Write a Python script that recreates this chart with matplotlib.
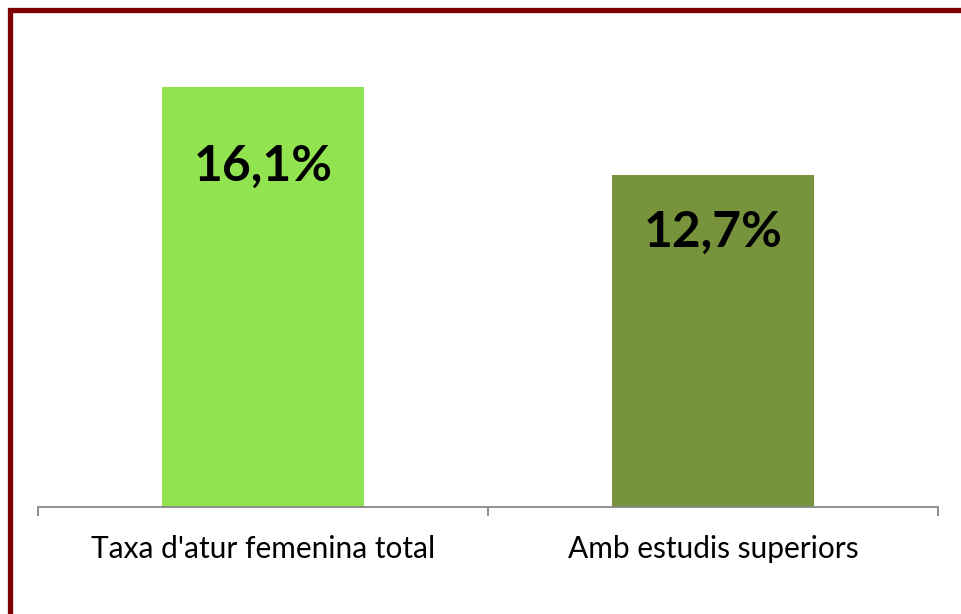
import matplotlib.pyplot as plt
from matplotlib.patches import Rectangle

categories = ["Taxa d'atur femenina total", "Amb estudis superiors"]
values = [16.1, 12.7]
labels = ["16,1%", "12,7%"]
colors = ["#92E350", "#77933C"]

plt.rcParams['font.family'] = ['Lato', 'DejaVu Sans']

W, H = 961, 614
fig = plt.figure(figsize=(W / 100, H / 100), dpi=100)

# dark red frame, cut off at the right and bottom
fig.patches.append(Rectangle((9.5 / W, -0.1), 1.2, (H - 9.5) / H + 0.1,
                             transform=fig.transFigure, fill=False,
                             edgecolor="#7F0000", linewidth=3.8))

ax = fig.add_axes([38 / W, (H - 507) / H, 900 / W, 470 / H])
x = range(len(categories))
bars = ax.bar(x, values, width=0.447, color=colors)
label_drop = [3.6, 2.72]  # baseline distance below bar top (data units)
for b, lab, d in zip(bars, labels, label_drop):
    ax.text(b.get_x() + b.get_width() / 2, b.get_height() - d, lab,
            ha='center', va='baseline', fontsize=35.8, fontweight='bold',
            color='black')

ax.set_xlim(-0.5, 1.5)
ax.set_ylim(0, 18)
ax.set_xticks(list(x))
ax.set_xticklabels(categories, fontsize=21.5)
ax.set_xticks([-0.5, 0.5, 1.5], minor=True)
ax.tick_params(axis='x', which='major', length=0, pad=20)
ax.tick_params(axis='x', which='minor', length=6.5, width=1.3, color='#878787')
ax.set_yticks([])
for s in ['top', 'right', 'left']:
    ax.spines[s].set_visible(False)
ax.spines['bottom'].set_color('#878787')
ax.spines['bottom'].set_linewidth(1.3)

fig.savefig('out.png', dpi=100)
